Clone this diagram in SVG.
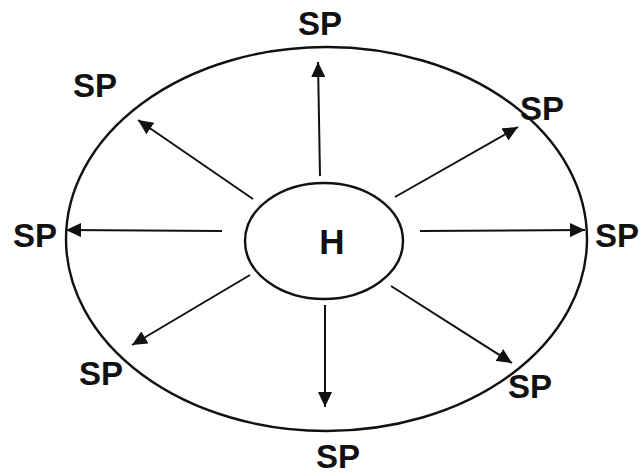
<svg xmlns="http://www.w3.org/2000/svg" width="641" height="476" viewBox="0 0 641 476">
<style>
.shape{fill:none;stroke:#111;stroke-width:2.4}
.conn{stroke:#111;stroke-width:2;fill:none;marker-end:url(#ah)}
.lbl{font-family:"Liberation Sans",Arial,sans-serif;font-weight:bold;font-size:33px;fill:#111;text-anchor:middle}
</style>
<defs>
<marker id="ah" markerUnits="userSpaceOnUse" markerWidth="16" markerHeight="14" refX="15" refY="7" orient="auto">
<path d="M0,0 L15,7 L0,14 z" fill="#111"/>
</marker>
</defs>
<rect width="641" height="476" fill="#fff"/>
<g id="outer"><ellipse class="shape" cx="326.5" cy="239" rx="260.5" ry="192"/></g>
<g id="H"><ellipse class="shape" cx="324" cy="241" rx="79" ry="58"/><text class="lbl" x="332" y="254" style="font-size:35px">H</text></g>
<g id="connectors">
<line class="conn" x1="320" y1="176" x2="318" y2="62"/>
<line class="conn" x1="325" y1="305" x2="325" y2="407"/>
<line class="conn" x1="222" y1="231" x2="66" y2="230"/>
<line class="conn" x1="420" y1="231" x2="585" y2="230"/>
<line class="conn" x1="253" y1="199" x2="138" y2="120"/>
<line class="conn" x1="250" y1="275" x2="132" y2="345"/>
<line class="conn" x1="395" y1="197" x2="518" y2="127"/>
<line class="conn" x1="391" y1="286" x2="512" y2="363"/>
</g>
<g id="sp-top"><text class="lbl" x="320" y="35">SP</text></g>
<g id="sp-topleft"><text class="lbl" x="95" y="97">SP</text></g>
<g id="sp-left"><text class="lbl" x="35" y="247">SP</text></g>
<g id="sp-right"><text class="lbl" x="617" y="247">SP</text></g>
<g id="sp-topright"><text class="lbl" x="542" y="120">SP</text></g>
<g id="sp-bottomleft"><text class="lbl" x="101" y="385">SP</text></g>
<g id="sp-bottomright"><text class="lbl" x="530" y="398">SP</text></g>
<g id="sp-bottom"><text class="lbl" x="338" y="468">SP</text></g>
</svg>
